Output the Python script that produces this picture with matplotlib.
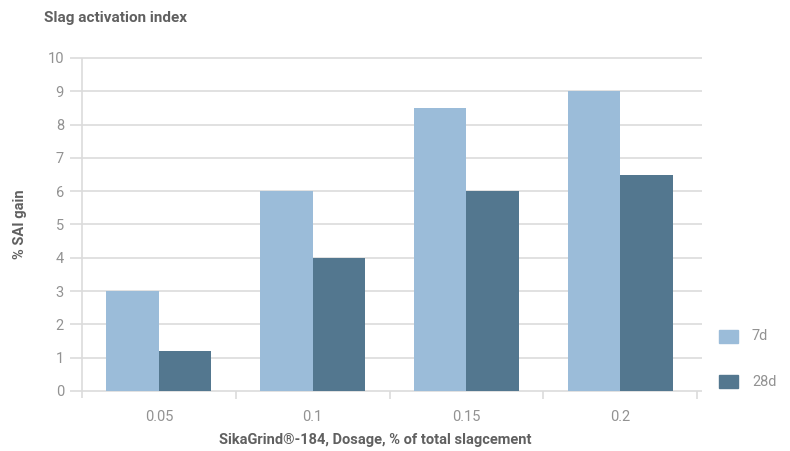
import matplotlib
matplotlib.use("Agg")
import matplotlib.pyplot as plt
import numpy as np

dosages = ["0.05", "0.1", "0.15", "0.2"]
sai_7d = [3.0, 6.0, 8.5, 9.0]
sai_28d = [1.2, 4.0, 6.0, 6.5]

LIGHT = "#9bbcd9"
DARK = "#53778f"
GRID = "#dcdcdc"
TICK = "#929292"
LABEL = "#606060"

plt.rcParams["font.family"] = ["Roboto", "DejaVu Sans"]

fig = plt.figure(figsize=(7.9, 4.51), dpi=100)
ax = fig.add_axes([82 / 790, 1 - 391 / 451, 615 / 790, 333 / 451])

x = np.arange(len(dosages))
w = 0.342
ax.bar(x - w / 2, sai_7d, w, color=LIGHT, zorder=3)
ax.bar(x + w / 2, sai_28d, w, color=DARK, zorder=3)

ax.set_xlim(-0.5, len(dosages) - 0.5)
ax.set_ylim(0, 10)

# gridlines that run a little past the plot on both sides
ax.hlines(np.arange(0, 11), -0.578, 3.533, color=GRID, lw=1.2, clip_on=False, zorder=1)
# left axis line and category separators
ax.vlines(-0.5, -0.22, 10, color=GRID, lw=1.2, clip_on=False, zorder=1)
ax.vlines(np.arange(0.5, len(dosages) - 0.5 + 1), -0.25, 0, color=GRID, lw=1.2,
          clip_on=False, zorder=1)

for s in ax.spines.values():
    s.set_visible(False)

ax.set_yticks(np.arange(0, 11))
ax.set_xticks(x)
ax.set_xticklabels(dosages)
ax.tick_params(axis="both", length=0, labelcolor=TICK, labelsize=10.5)
ax.tick_params(axis="y", pad=13)
ax.tick_params(axis="x", pad=14)

fig.text(44 / 790, 1 - 18 / 451, "Slag activation index", fontsize=11, fontweight="bold",
         color=LABEL, va="center", ha="left")
fig.text(20 / 790, 1 - 224 / 451, "% SAI gain", fontsize=10.5, fontweight="bold",
         color=LABEL, va="center", ha="center", rotation=90)
fig.text(375 / 790, 1 - 440 / 451, "SikaGrind®-184, Dosage, % of total slagcement",
         fontsize=10.5, fontweight="bold", color=LABEL, va="center", ha="center")

# legend
for label, col, yc in [("7d", LIGHT, 336.5), ("28d", DARK, 381.5)]:
    fig.patches.append(plt.Rectangle((719 / 790, 1 - (yc + 6.5) / 451), 19 / 790, 13 / 451,
                                     color=col, transform=fig.transFigure))
    fig.text(752 / 790, 1 - yc / 451, label, fontsize=10.5, color=TICK, va="center", ha="left")

fig.savefig("out.png", dpi=100)
